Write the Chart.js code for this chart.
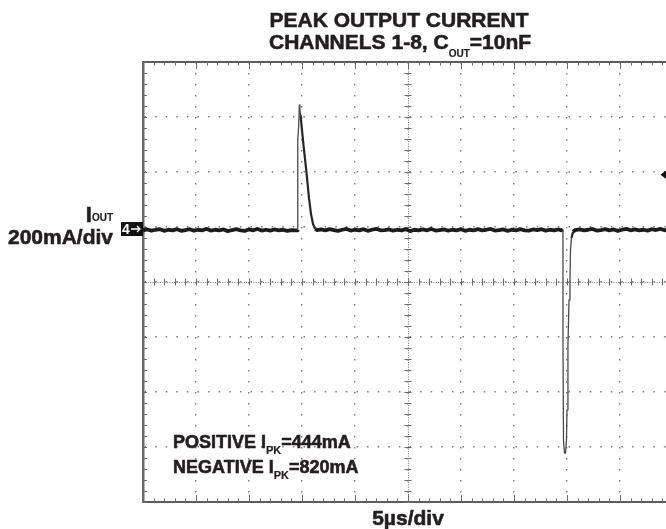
<!DOCTYPE html>
<html>
<head>
<meta charset="utf-8">
<script src="https://cdn.jsdelivr.net/npm/chart.js@4/dist/chart.umd.min.js"></script>
<style>
  html, body { margin: 0; padding: 0; background: #fff; overflow: hidden; }
  #wrap { width: 700px; height: 529px; }
</style>
</head>
<body>
<div id="wrap"><canvas id="scope" width="700" height="529"></canvas></div>
<script>
// Scope settings (5us/div, 200mA/div, 10 x 8 divisions)
const xMin = 0, xMax = 50, xStep = 5;
const yMin = -800, yMax = 800, yStep = 200;
const groundMa = 189;    // channel 4 reference marker level
const triggerMa = 390;   // trigger level marker on the right

// Trace samples: time (us) and current (mA, relative to screen centre)
const traceUs = [
  0.0, 0.4, 0.8, 1.2, 1.6, 2.0, 2.4, 2.8, 3.2, 3.6, 4.0, 4.4, 4.8, 5.2, 5.6, 6.0, 6.4, 6.8, 7.2, 7.6,
  8.0, 8.4, 8.8, 9.2, 9.6, 10.0, 10.4, 10.8, 11.2, 11.6, 12.0, 12.4, 12.8, 13.2, 13.6, 14.0, 14.4,
  14.55, 14.59, 14.6, 14.68, 14.75, 14.8, 14.86, 15.14, 15.42, 15.66, 15.85, 16.04, 16.23, 16.42,
  16.8, 17.2, 17.6, 18.0, 18.4, 18.8, 19.2, 19.6, 20.0, 20.4, 20.8, 21.2, 21.6, 22.0, 22.4, 22.8,
  23.2, 23.6, 24.0, 24.4, 24.8, 25.2, 25.6, 26.0, 26.4, 26.8, 27.2, 27.6, 28.0, 28.4, 28.8, 29.2,
  29.6, 30.0, 30.4, 30.8, 31.2, 31.6, 32.0, 32.4, 32.8, 33.2, 33.6, 34.0, 34.4, 34.8, 35.2, 35.6,
  36.0, 36.4, 36.8, 37.2, 37.6, 38.0, 38.4, 38.8, 39.2,
  39.5, 39.62, 39.62, 39.67, 39.76, 39.86, 39.95, 40.0, 40.09, 40.19, 40.28, 40.33, 40.42, 40.57, 40.75,
  41.2, 41.6, 42.0, 42.4, 42.8, 43.2, 43.6, 44.0, 44.4, 44.8, 45.2, 45.6, 46.0, 46.4, 46.8, 47.2,
  47.6, 48.0, 48.4, 48.8, 49.2, 49.6, 50.0
];
const traceMa = [
  188, 191, 187, 190, 192, 186, 190, 188, 192, 186, 189, 192, 187, 190, 188, 193, 187, 190, 188, 191,
  185, 189, 192, 188, 186, 191, 188, 193, 187, 190, 187, 191, 188, 190, 186, 189, 188,
  188, 189, 516, 560, 644, 628, 607, 498, 400, 305, 247, 211, 193, 189,
  191, 188, 192, 189, 186, 190, 193, 187, 190, 188, 192, 186, 190, 193, 188, 189,
  191, 187, 190, 188, 192, 185, 190, 188, 191, 188, 193, 187, 189, 191, 187, 190,
  188, 192, 186, 190, 188, 192, 188, 190, 193, 187, 189, 191, 186, 190, 188, 192,
  188, 187, 191, 189, 192, 187, 190, 188, 191,
  188, 190, -215, -575, -622, -622, -575, -465, -229, -65, 0, 116, 160, 182, 189,
  191, 188, 190, 193, 187, 189, 192, 188, 191, 186, 190, 193, 188, 191, 188, 190,
  187, 192, 189, 193, 188, 191, 190
];

const ink = '#231f20';
const fontFamily = '"Liberation Sans", Arial, Helvetica, sans-serif';

// draw a line of text made of parts [text, size, dy]
function drawRich(ctx, parts, x, y, align) {
  let total = 0;
  parts.forEach(p => {
    ctx.font = 'bold ' + p[1] + 'px ' + fontFamily;
    total += ctx.measureText(p[0]).width;
  });
  let cur = align === 'center' ? x - total / 2 : align === 'right' ? x - total : x;
  ctx.textAlign = 'left';
  ctx.textBaseline = 'alphabetic';
  ctx.strokeStyle = ctx.fillStyle;
  ctx.lineJoin = 'round';
  parts.forEach(p => {
    ctx.font = 'bold ' + p[1] + 'px ' + fontFamily;
    ctx.lineWidth = p[1] >= 16 ? 0.6 : 0.2;
    ctx.fillText(p[0], cur, y + (p[2] || 0));
    ctx.strokeText(p[0], cur, y + (p[2] || 0));   // a bit heavier, like the printed labels
    cur += ctx.measureText(p[0]).width;
  });
}

// baseline noise is drawn as a thick band, the spikes as thin strokes
const nearGround = v => Math.abs(v - groundMa) < 12;
function edgeWidth(c) {
  if (nearGround(c.p0.parsed.y) && nearGround(c.p1.parsed.y)) return undefined;
  return Math.abs(c.p1.x - c.p0.x) < 1.5 ? 1.3 : 2.2;
}
function edgeColor(c) {
  if (nearGround(c.p0.parsed.y) && nearGround(c.p1.parsed.y)) return undefined;
  return Math.abs(c.p1.x - c.p0.x) < 1.5 ? '#4a4a4a' : '#262626';
}

// Oscilloscope graticule: top border, minor ticks, centre cross lines
const graticule = {
  id: 'graticule',
  beforeDatasetsDraw(chart) {
    const { ctx, chartArea: a, scales: { x, y } } = chart;
    const cx = x.getPixelForValue((xMin + xMax) / 2);
    const cy = y.getPixelForValue((yMin + yMax) / 2);
    ctx.save();

    // top border
    ctx.strokeStyle = '#5c5c5c';
    ctx.lineWidth = 2;
    ctx.beginPath();
    ctx.moveTo(a.left - 1, a.top);
    ctx.lineTo(a.right, a.top);
    ctx.stroke();

    // dense dotted centre lines
    ctx.strokeStyle = '#777';
    ctx.lineWidth = 1;
    ctx.setLineDash([1, 1.4]);
    ctx.beginPath();
    ctx.moveTo(a.left, Math.round(cy) + 0.5);
    ctx.lineTo(a.right, Math.round(cy) + 0.5);
    ctx.moveTo(Math.round(cx) + 0.5, a.top);
    ctx.lineTo(Math.round(cx) + 0.5, a.bottom);
    ctx.stroke();
    ctx.setLineDash([]);

    // minor ticks along x (1us)
    ctx.strokeStyle = '#6a6a6a';
    ctx.beginPath();
    for (let i = 0; i <= (xMax - xMin); i++) {
      const t = xMin + i;
      const px = Math.round(x.getPixelForValue(t)) + 0.5;
      const major = i % xStep === 0;
      const len = major ? 7 : 3.5;
      ctx.moveTo(px, a.top);
      ctx.lineTo(px, a.top + len);
      ctx.moveTo(px, a.bottom);
      ctx.lineTo(px, a.bottom - len);
      ctx.moveTo(px, cy - 3.5);
      ctx.lineTo(px, cy + 3.5);
    }
    // minor ticks along y (40mA)
    for (let j = 0; j <= (yMax - yMin) / 40; j++) {
      const v = yMin + j * 40;
      const py = Math.round(y.getPixelForValue(v)) + 0.5;
      ctx.moveTo(a.left, py);
      ctx.lineTo(a.left + 4, py);
      ctx.moveTo(cx - 3.5, py);
      ctx.lineTo(cx + 3.5, py);
    }
    ctx.stroke();
    ctx.restore();
  },
  afterDraw(chart) {
    const { ctx, chartArea: a, scales: { x, y } } = chart;
    ctx.save();
    ctx.fillStyle = ink;

    // title
    drawRich(ctx, [['PEAK OUTPUT CURRENT', 21]], 399, 27, 'center');
    drawRich(ctx, [['CHANNELS 1-8, C', 21], ['OUT', 10, 8], ['=10nF', 21]], 400, 48.5, 'center');

    // vertical scale label
    drawRich(ctx, [['I', 22], ['OUT', 10, -1]], 113, 222, 'right');
    drawRich(ctx, [['200mA/div', 21]], 113, 244, 'right');

    // horizontal scale label
    drawRich(ctx, [['5\u00b5s/div', 21]], 408, 525, 'center');

    // peak readings
    drawRich(ctx, [['POSITIVE I', 18], ['PK', 11, 6], ['=444mA', 18]], 173, 448, 'left');
    drawRich(ctx, [['NEGATIVE I', 18], ['PK', 11, 6], ['=820mA', 18]], 173, 473, 'left');

    // channel 4 ground marker
    const gy = y.getPixelForValue(groundMa);
    ctx.fillStyle = '#111';
    ctx.fillRect(a.left - 22, gy - 8, 22, 14);
    ctx.fillStyle = '#fff';
    ctx.font = 'bold 14px ' + fontFamily;
    ctx.fillText('4', a.left - 21, gy + 4);
    ctx.strokeStyle = '#fff';
    ctx.lineWidth = 1.4;
    ctx.beginPath();
    ctx.moveTo(a.left - 12, gy - 1);
    ctx.lineTo(a.left - 3, gy - 1);
    ctx.moveTo(a.left - 6, gy - 4);
    ctx.lineTo(a.left - 3, gy - 1);
    ctx.lineTo(a.left - 6, gy + 2);
    ctx.stroke();

    // trigger level marker
    const ty = y.getPixelForValue(triggerMa);
    ctx.fillStyle = '#111';
    ctx.beginPath();
    ctx.moveTo(660.5, ty);
    ctx.lineTo(667, ty - 5);
    ctx.lineTo(667, ty + 5);
    ctx.closePath();
    ctx.fill();
    ctx.restore();
  }
};

const ctx = document.getElementById('scope').getContext('2d');
const chart = new Chart(ctx, {
  type: 'line',
  data: {
    datasets: [{
      data: traceUs.map((t, i) => ({ x: t, y: traceMa[i] })),
      borderColor: '#1c1c1c',
      borderWidth: 3.8,
      pointRadius: 0,
      tension: 0,
      borderJoinStyle: 'round',
      segment: { borderWidth: edgeWidth, borderColor: edgeColor }
    }]
  },
  options: {
    responsive: false,
    animation: false,
    layout: { padding: { left: 143, top: 62, right: 27, bottom: 27 } },
    plugins: { legend: { display: false }, tooltip: { enabled: false }, title: { display: false } },
    scales: {
      x: {
        type: 'linear', min: xMin, max: xMax,
        ticks: { display: false, stepSize: xStep },
        grid: { color: '#7a7a7a', lineWidth: 1.4, drawTicks: false },
        border: { color: '#5c5c5c', width: 2, dash: [1.5, 9.5] }
      },
      y: {
        type: 'linear', min: yMin, max: yMax,
        ticks: { display: false, stepSize: yStep },
        grid: { color: '#7a7a7a', lineWidth: 1.4, drawTicks: false },
        border: { color: '#6a6a6a', width: 2.5, dash: [1.5, 9.1] }
      }
    }
  },
  plugins: [graticule]
});
</script>
</body>
</html>
